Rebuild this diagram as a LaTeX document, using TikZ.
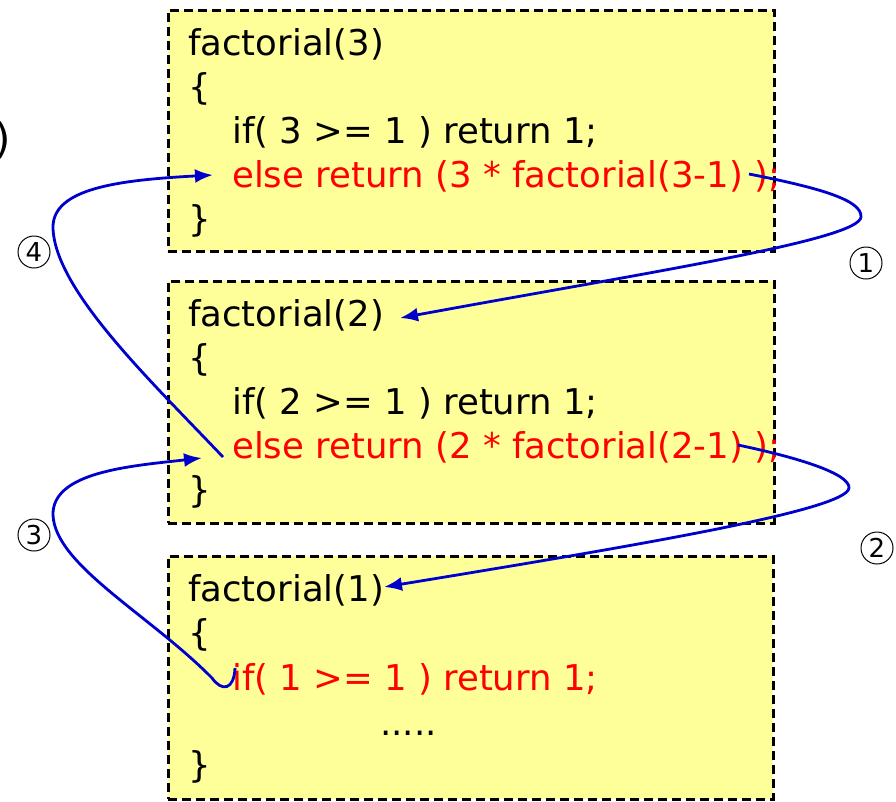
\documentclass[tikz,border=0pt]{standalone}
\usepackage{fontspec}
\setmainfont{DejaVu Sans}
\usetikzlibrary{arrows.meta}
\definecolor{boxyellow}{HTML}{FFFF99}
\definecolor{codered}{HTML}{FF0000}
\definecolor{arrowblue}{HTML}{0000CC}
\tikzset{
  framebox/.style={draw=black, fill=boxyellow, line width=2.8pt, dash pattern=on 9pt off 5pt, inner sep=0pt, anchor=north west},
  codeline/.style={inner sep=0pt, anchor=base west, font=\fontsize{35.5}{40}\selectfont, text=black},
  redline/.style={codeline, text=codered},
  stepnum/.style={draw=black, line width=1pt, circle, minimum size=32pt, inner sep=0pt, font=\fontsize{26}{30}\selectfont},
  callarrow/.style={draw=arrowblue, line width=2.8pt, -{Latex[length=18pt,width=14pt]}}
}
\begin{document}
\begin{tikzpicture}[x=1pt,y=-1pt]
\useasboundingbox (0,0) rectangle (896,801);
% partial text at left edge
\node[inner sep=0pt, anchor=base east, font=\fontsize{42}{48}\selectfont] (edge) at (11,153) {)};
% boxes
\node[framebox, minimum width=606pt, minimum height=241pt] (b1) at (167,9) {};
\node[framebox, minimum width=606pt, minimum height=242pt] (b2) at (167,280) {};
\node[framebox, minimum width=605pt, minimum height=243pt] (b3) at (167,555) {};
% box 1
\node[codeline] (f3) at (188,55) {factorial(3)};
\node[codeline] (o3) at (188,99) {\{};
\node[codeline] (i3) at (232,143) {if( 3 >= 1 ) return 1;};
\node[redline] (e3) at (232,187) {else return (3 * factorial(3-1) );};
\node[codeline] (c3) at (188,231) {\}};
% box 2
\node[codeline] (f2) at (188,326) {factorial(2)};
\node[codeline] (o2) at (188,370) {\{};
\node[codeline] (i2) at (232,414) {if( 2 >= 1 ) return 1;};
\node[redline] (e2) at (232,458) {else return (2 * factorial(2-1) );};
\node[codeline] (c2) at (188,502) {\}};
% box 3
\node[codeline] (f1) at (188,601) {factorial(1)};
\node[codeline] (o1) at (188,645) {\{};
\node[redline] (i1) at (232,690) {if( 1 >= 1 ) return 1;};
\node[codeline] (d1) at (380,735) {.....};
\node[codeline] (c1) at (188,777) {\}};
% step numbers
\node[stepnum] (n1) at (866,263) {1};
\node[stepnum] (n2) at (877,548) {2};
\node[stepnum] (n3) at (34,535) {3};
\node[stepnum] (n4) at (34,252) {4};
% connector end points
\coordinate (s1) at (749,174);
\coordinate (t1) at (400,318);
\coordinate (s2) at (738,445);
\coordinate (t2) at (384,587);
\coordinate (s3) at (235,668);
\coordinate (t3) at (202,458);
\coordinate (s4) at (223,457);
\coordinate (t4) at (213,175);
% arrows
\draw[callarrow] (s1) .. controls (820,188) and (862,200) .. (861,217)
  .. controls (859,240) and (650,272) .. (t1);
\draw[callarrow] (s2) .. controls (800,458) and (850,474) .. (849,488)
  .. controls (847,510) and (640,545) .. (t2);
\draw[callarrow] (s3) .. controls (234,690) and (222,692) .. (212,678)
  .. controls (150,615) and (55,565) .. (53,515)
  .. controls (52,472) and (130,466) .. (t3);
\draw[callarrow] (s4) .. controls (150,380) and (55,290) .. (53,228)
  .. controls (52,188) and (120,180) .. (t4);
\end{tikzpicture}
\end{document}
